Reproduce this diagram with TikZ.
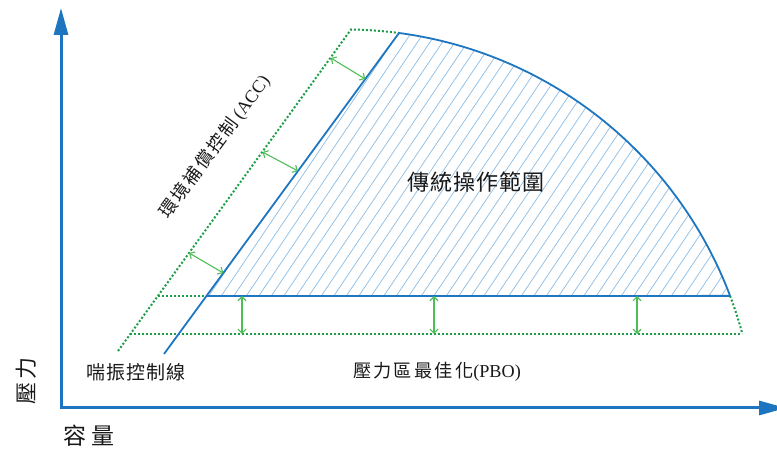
\documentclass[tikz,border=0pt]{standalone}
\usepackage{fontspec}
\setmainfont{Liberation Serif}
\newfontfamily\cjk{Noto Sans CJK TC}
\usetikzlibrary{arrows.meta}
\definecolor{axisblue}{RGB}{28,117,190}
\definecolor{lineblue}{RGB}{30,118,192}
\definecolor{hatchblue}{RGB}{140,188,226}
\definecolor{dotgreen}{RGB}{28,158,72}
\definecolor{arrowgreen}{RGB}{78,190,88}
\definecolor{txt}{RGB}{25,25,25}
\tikzset{
  axisline/.style={draw=axisblue, line width=3pt, line join=miter,
    {Triangle[length=27pt,width=14pt]}-{Triangle[length=27pt,width=14pt]}},
  blueline/.style={draw=lineblue, line width=1.8pt, line join=round},
  hatchline/.style={draw=hatchblue, line width=0.7pt},
  dotline/.style={draw=dotgreen, line width=2pt, dash pattern=on 2pt off 2pt},
  dimarrow/.style={draw=arrowgreen, line width=1.1pt,
    {Straight Barb[length=4pt,width=8pt]}-{Straight Barb[length=4pt,width=8pt]}},
  lbl/.style={inner sep=0pt, text=txt}
}
\begin{document}
\begin{tikzpicture}[x=1pt,y=1pt]
\useasboundingbox (0,0) rectangle (777,449);
% key points
\coordinate (O) at (61,41);
\coordinate (Ytip) at (61,441);
\coordinate (Xtip) at (786,41);
\coordinate (Ctr) at (345,8);
\coordinate (S1) at (164,95);
\coordinate (S2) at (399,416);
\coordinate (C) at (206.5,153);
\coordinate (E) at (730.1,153.1);
\coordinate (G1) at (118,98);
\coordinate (G2) at (351,419.5);
\coordinate (L1) at (130.3,115);
\coordinate (L2) at (742.3,115);
\coordinate (U1) at (157.9,153);
% hatch
\begin{scope}
  \clip (C) -- (S2) arc[start angle=82.46, end angle=20.64, radius=411.5] -- cycle;
  \foreach \k in {0,...,60} \draw[hatchline] ({\k*12.5},140) -- ++(56:400);
\end{scope}
% green dotted envelope
\draw[dotline] (G1) -- (G2) arc[start angle=89.16, end angle=82.46, radius=411.5];
\draw[dotline] (E) arc[start angle=20.64, end angle=15.07, radius=411.5];
\draw[dotline] (L1) -- (L2);
\draw[dotline] (U1) -- (C);
% blue operating region
\draw[blueline] (S1) -- (S2) arc[start angle=82.46, end angle=20.64, radius=411.5];
\draw[blueline] (C) -- (E);
% green dimension arrows
\coordinate (A1s) at (330.7,391); \coordinate (A1e) at (365.3,370);
\coordinate (A2s) at (262.5,297); \coordinate (A2e) at (298,278);
\coordinate (A3s) at (189.1,196); \coordinate (A3e) at (223.3,176);
\coordinate (V1s) at (242,153); \coordinate (V1e) at (242,115);
\coordinate (V2s) at (434,153); \coordinate (V2e) at (434,115);
\coordinate (V3s) at (637,153); \coordinate (V3e) at (637,115);
\draw[dimarrow] (A1s) -- (A1e);
\draw[dimarrow] (A2s) -- (A2e);
\draw[dimarrow] (A3s) -- (A3e);
\draw[dimarrow] (V1s) -- (V1e);
\draw[dimarrow] (V2s) -- (V2e);
\draw[dimarrow] (V3s) -- (V3e);
% axes
\draw[axisline] (Ytip) -- (O) -- (Xtip);
% labels
\node[lbl, font={\fontsize{22}{24}\cjk\addfontfeature{LetterSpace=5}}] (trad) at (476,267) {傳統操作範圍};
\node[lbl, font={\fontsize{18}{20}\selectfont}, rotate=53.8] (acc) at (215,302)
  {{\cjk\addfontfeature{LetterSpace=12}環境補償控制}\hspace{4pt}(ACC)};
\node[lbl, font={\fontsize{19}{22}\cjk\addfontfeature{LetterSpace=4}}] (surge) at (136,77) {喘振控制線};
\node[lbl, font={\fontsize{18.2}{21}\selectfont}] (pbo) at (437,77)
  {{\cjk\addfontfeature{LetterSpace=12}壓力區最佳化}(PBO)};
\node[lbl, font={\fontsize{23}{26}\cjk\addfontfeature{LetterSpace=20}}] (cap) at (89,13) {容量};
\node[lbl, font={\fontsize{22}{25}\cjk\addfontfeature{LetterSpace=12}}, rotate=90] (pres) at (26,68) {壓力};
\end{tikzpicture}
\end{document}
